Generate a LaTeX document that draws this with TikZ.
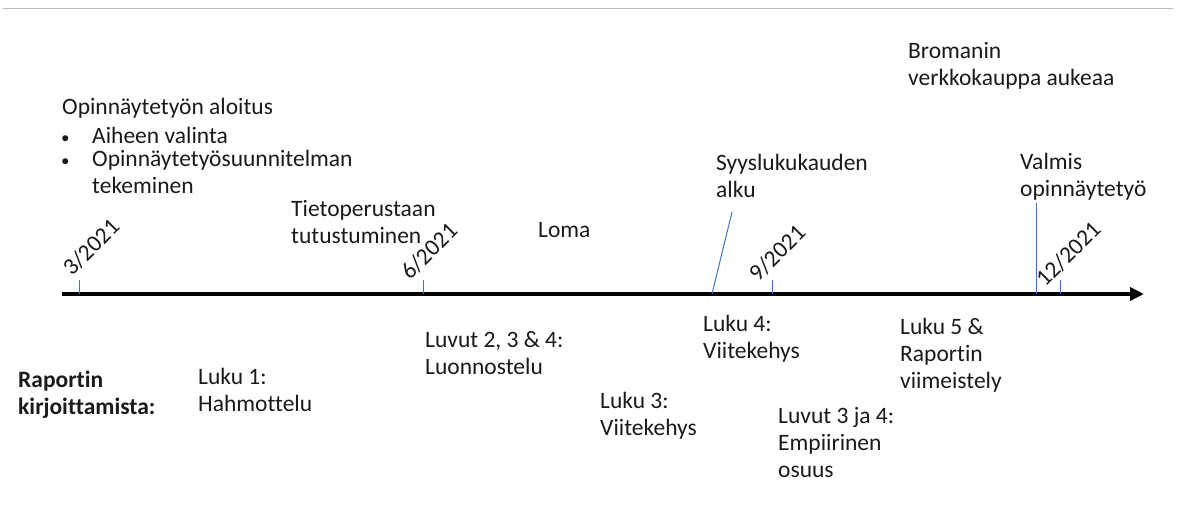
\documentclass[tikz,border=0pt]{standalone}
\usepackage{fontspec}
\setmainfont[Ligatures=NoCommon]{Carlito}
\usetikzlibrary{arrows.meta}
\definecolor{txt}{HTML}{1A1A1A}
\definecolor{mblue}{HTML}{4472C4}
\tikzset{
  lbl/.style={anchor=west, inner sep=0pt, align=left, text=txt, font=\fontsize{23.5}{27}\selectfont},
  date/.style={anchor=base west, inner sep=0pt, rotate=45, text=txt, font=\fontsize{23.5}{24}\selectfont},
  tick/.style={draw=mblue, line width=1pt},
  marker/.style={draw=mblue, line width=1pt},
  axis/.style={draw=black, line width=3.5pt, -{Triangle[length=14pt,width=13pt]}},
}
\newcommand{\blt}{\makebox[30pt][l]{\hspace{-1pt}\fontsize{17}{17}\selectfont•}}
\begin{document}
\begin{tikzpicture}[x=1pt,y=-1pt]
\useasboundingbox (0,0) rectangle (1178,511);
\draw[gray!55, line width=1.5pt] (3,8.5) -- (1173,8.5);
% axis
\coordinate (a0) at (62,294);
\coordinate (a1) at (1144,294);
\draw[axis] (a0) -- (a1);
% ticks
\foreach \n/\x in {t3/79, t6/423, t9/772, t12/1060}{
  \coordinate (\n b) at (\x,294);
  \coordinate (\n t) at (\x,280);
  \draw[tick] (\n b) -- (\n t);
}
% dates
\node[date] (d3) at (72,277) {3/2021};
\node[date] (d6) at (410,281) {6/2021};
\node[date] (d9) at (758,283) {9/2021};
\node[date] (d12) at (1045,288) {12/2021};
% upper labels
\node[lbl] (start) at (62,108) {Opinnäytetyön aloitus};
\node[lbl] (b1) at (62,135) {\blt Aiheen valinta};
\node[lbl] (b2) at (62,175) {\blt\begin{tabular}[t]{@{}l@{}}Opinnäytetyösuunnitelman\\tekeminen\end{tabular}};
\node[lbl] (tieto) at (291,222) {Tietoperustaan\\tutustuminen};
\node[lbl] (loma) at (538,230) {Loma};
\node[lbl] (syys) at (716,176) {Syyslukukauden\\alku};
\node[lbl] (brom) at (908,66) {Bromanin\\verkkokauppa aukeaa};
\node[lbl] (valmis) at (1020,177) {Valmis\\opinnäytetyö};
% markers
\coordinate (m1b) at (712,294);
\coordinate (m1t) at (732,212);
\draw[marker] (m1b) -- (m1t);
\coordinate (m2b) at (1036,294);
\coordinate (m2t) at (1036,203);
\draw[marker] (m2b) -- (m2t);
% lower labels
\node[lbl, font=\bfseries\fontsize{23.5}{27}\selectfont] (rap) at (18,395) {Raportin\\kirjoittamista:};
\node[lbl] (l1) at (198,390) {Luku 1:\\Hahmottelu};
\node[lbl] (l234) at (425,353) {Luvut 2, 3 \& 4:\\Luonnostelu};
\node[lbl] (l3) at (600,416) {Luku 3:\\Viitekehys};
\node[lbl] (l4) at (703,339) {Luku 4:\\Viitekehys};
\node[lbl] (l34) at (778,442) {Luvut 3 ja 4:\\Empiirinen\\osuus};
\node[lbl] (l5) at (900,355) {Luku 5 \&\\Raportin\\viimeistely};
\end{tikzpicture}
\end{document}
